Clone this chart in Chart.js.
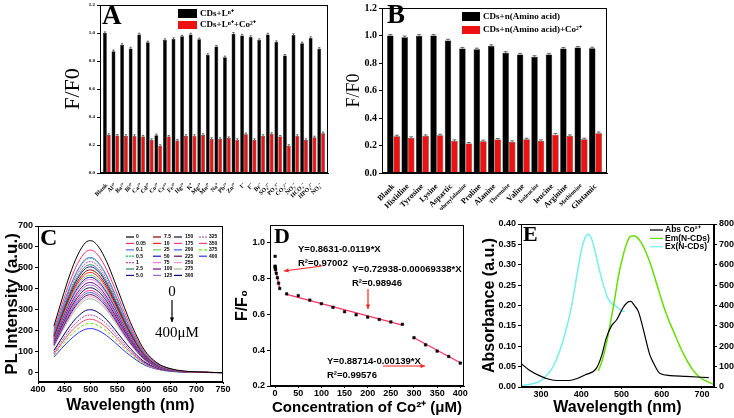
<!DOCTYPE html>
<html>
<head>
<meta charset="utf-8">
<script src="https://cdn.jsdelivr.net/npm/chart.js@4.4.1/dist/chart.umd.min.js"></script>
<style>
  body { margin:0; background:#fff; width:734px; height:418px; overflow:hidden; position:relative; }
  canvas { position:absolute; }
</style>
</head>
<body>
<canvas id="cA" width="290" height="210" style="left:52px;top:0"></canvas>
<canvas id="cB" width="280" height="210" style="left:342px;top:0"></canvas>
<canvas id="cC" width="232" height="206" style="left:0;top:212px"></canvas>
<canvas id="cD" width="258" height="206" style="left:232px;top:212px"></canvas>
<canvas id="cE" width="256" height="206" style="left:478px;top:212px"></canvas>
<script>
// ---- A: interfering ions
const ionLabels = ['Blank','Al³⁺','Ba²⁺','Bi³⁺','Ca²⁺','Cd²⁺','Co²⁺','Cr³⁺','Fe³⁺','Hg²⁺','K⁺','Mg²⁺','Mn²⁺','Na⁺','Pb²⁺','Zn²⁺','I⁻','F⁻','Br⁻','SO₄²⁻','PO₄³⁻','CO₃²⁻','NO₃⁻','HCO₃⁻','HPO₄²⁻','NO₂⁻'];
const ionRatio   = [1.0,0.87,0.915,0.89,0.99,0.934,0.27,0.95,0.957,0.976,0.99,0.955,0.844,0.903,0.827,0.995,0.983,0.972,0.95,0.99,0.936,0.839,0.986,0.927,0.965,0.887];
const ionRatioCo = [0.272,0.267,0.265,0.265,0.26,0.236,0.194,0.26,0.232,0.265,0.265,0.272,0.243,0.243,0.25,0.236,0.277,0.236,0.265,0.279,0.26,0.194,0.265,0.236,0.255,0.284];

// ---- B: amino acids
const aminoLabels  = ['Blank','Histidine','Tyrosine','Lysine','Aspartic','phenylalanine','Proline','Alanine','Threonine','Valine','Isoleucine','leucine','Arginine','Methionine','Glutamic'];
const aminoRatio   = [1.0,0.988,0.998,1.0,0.964,0.905,0.9,0.924,0.874,0.862,0.845,0.862,0.905,0.912,0.907];
const aminoRatioCo = [0.267,0.255,0.269,0.274,0.233,0.214,0.231,0.243,0.226,0.245,0.233,0.279,0.269,0.245,0.29];
const barErr = 0.008;

// ---- C: PL spectra at each Co2+ concentration
const concLabels = ['0','0.05','0.1','0.5','1','2.5','5.0','7.5','10','25','50','75','100','125','150','175','200','225','250','275','300','325','350','375','400'];
const plWave = [430,445,460,475,490,500,515,530,545,560,575,600,625,650,700,750];
const plSpectra = [
  [221,347,466,561,621,630,599,529,435,334,239,113,47,19,3,0],
  [205,322,433,521,576,585,556,491,404,310,222,105,44,18,2,0],
  [193,303,407,490,542,550,523,462,380,292,209,99,41,17,2,0],
  [191,300,403,485,537,545,518,458,376,289,207,98,41,16,2,0],
  [186,292,392,472,522,530,504,445,366,281,201,95,40,16,2,0],
  [180,283,381,458,507,515,489,433,355,273,196,93,39,15,2,0],
  [177,278,374,449,497,505,480,424,348,268,192,91,38,15,2,0],
  [172,270,363,436,483,490,466,412,338,260,186,88,37,15,2,0],
  [167,263,354,425,471,478,454,402,330,253,182,86,36,14,2,0],
  [163,256,344,414,458,465,442,391,321,246,177,84,35,14,2,0],
  [159,250,337,405,448,455,432,382,314,241,173,82,34,14,2,0],
  [156,245,329,396,438,445,423,374,307,236,169,80,33,13,2,0],
  [151,237,318,383,424,430,409,361,297,228,163,77,32,13,2,0],
  [146,230,309,372,412,418,397,351,288,222,159,75,31,13,2,0],
  [142,223,300,360,399,405,385,340,279,215,154,73,30,12,2,0],
  [137,216,290,349,386,392,372,329,270,208,149,71,29,12,2,0],
  [134,210,283,340,376,382,363,321,264,202,145,69,29,11,2,0],
  [130,205,275,331,366,372,353,312,257,197,141,67,28,11,1,0],
  [127,199,268,322,357,362,344,304,250,192,138,65,27,11,1,0],
  [123,194,260,313,347,352,334,296,243,187,134,63,26,11,1,0],
  [105,165,222,267,296,300,285,252,207,159,114,54,23,9,1,0],
  [96,151,204,245,271,275,261,231,190,146,105,50,21,8,1,0],
  [89,140,189,227,251,255,242,214,176,135,97,46,19,8,1,0],
  [82,129,174,209,231,235,223,197,162,125,89,42,18,7,1,0],
  [74,116,155,187,207,210,200,176,145,111,80,38,16,6,1,0]
];
const plColors = ['#000000','#ff3366','#5b6cff','#22bb55','#cc4499','#338866','#1a1a99','#8b0000','#ff2020','#66cc66','#1010cc','#ff77cc','#6a0a8a','#9a6acc','#101040','#ff3a8a','#3a5aff','#5a0a5a','#ff99cc','#99bb99','#000070','#a040a0','#ff4477','#55ee00','#3030ff'];
const plDash = {3:[2,1], 4:[2,1], 21:[2,1], 23:[3,2]};

// ---- D: F/F0 vs Co2+ concentration
const dConc  = [0,0.05,0.1,0.5,1,2.5,5,7.5,10,25,50,75,100,125,150,175,200,225,250,275,300,325,350,375,400];
const dRatio = [0.925,0.87,0.865,0.858,0.85,0.83,0.805,0.775,0.745,0.715,0.705,0.68,0.66,0.64,0.615,0.598,0.585,0.572,0.558,0.545,0.47,0.43,0.395,0.365,0.328];
const fit1X = [0,10],    fit1Y = [0.865,0.745];
const fit2X = [25,275],  fit2Y = [0.712,0.54];
const fit3X = [300,400], fit3Y = [0.47,0.33];

// ---- E: absorbance / emission / excitation
const absWave = [250,270,300,320,340,370,390,410,437,450,462,475,488,504,515,523,532,542,552,562,570,579,596,621,660,717];
const absVal  = [0.058,0.042,0.026,0.019,0.016,0.016,0.021,0.03,0.045,0.075,0.12,0.15,0.165,0.195,0.208,0.21,0.2,0.185,0.15,0.11,0.08,0.06,0.033,0.028,0.026,0.023];
const emWave = [442,452,462,472,482,492,502,512,520,529,540,550,560,570,580,590,600,615,630,645,660,675,690,705,730];
const emVal  = [78,130,210,310,420,540,630,700,735,742,732,705,665,615,555,490,425,340,270,200,140,90,55,35,12];
const exWave = [250,270,290,300,315,330,345,360,375,390,400,410,417,425,435,445,455,465,475,483,490,500,508];
const exVal  = [8,12,22,33,60,100,170,265,390,560,670,735,750,730,660,575,500,440,410,402,390,375,370];

const SERIF = "'Liberation Serif','Times New Roman',serif";
const SANS  = "'Liberation Sans',Arial,sans-serif";
Chart.defaults.font.family = SANS;
Chart.defaults.color = '#000';
Chart.defaults.animation = false;
Chart.defaults.plugins.legend.display = false;
Chart.defaults.plugins.tooltip.enabled = false;

const pts = (xs, ys) => xs.map((x, i) => ({x, y: ys[i]}));
const fixW = w => s => { s.width = w; };
const fixH = h => s => { s.height = h; };
const padCats = s => { s._startValue -= 0.3; s._valueRange += 0.6; };
const yGrid = {drawOnChartArea:false, tickLength:3, color:'#000'};
const xGrid = {drawOnChartArea:false, tickLength:2, color:'#000'};

function text(ctx, s, x, y, font, align, color) {
  ctx.save();
  ctx.font = font; ctx.fillStyle = color || '#000';
  ctx.textAlign = align || 'left'; ctx.textBaseline = 'middle';
  ctx.fillText(s, x, y);
  ctx.restore();
}
function arrow(ctx, x1, y1, x2, y2, color) {
  ctx.save();
  ctx.strokeStyle = color; ctx.fillStyle = color; ctx.lineWidth = 1.2;
  ctx.beginPath(); ctx.moveTo(x1, y1); ctx.lineTo(x2, y2); ctx.stroke();
  const a = Math.atan2(y2 - y1, x2 - x1), h = 5;
  ctx.beginPath(); ctx.moveTo(x2, y2);
  ctx.lineTo(x2 - h*Math.cos(a-0.45), y2 - h*Math.sin(a-0.45));
  ctx.lineTo(x2 - h*Math.cos(a+0.45), y2 - h*Math.sin(a+0.45));
  ctx.closePath(); ctx.fill();
  ctx.restore();
}
function swatchLine(ctx, x1, x2, y, color, dash) {
  ctx.save(); ctx.strokeStyle = color; ctx.lineWidth = 1.2; ctx.setLineDash(dash || []);
  ctx.beginPath(); ctx.moveTo(x1, y); ctx.lineTo(x2, y); ctx.stroke(); ctx.restore();
}

const frame = {
  id: 'frame',
  afterDatasetsDraw(ch) {
    const {ctx, chartArea: a} = ch;
    ctx.save(); ctx.strokeStyle = '#000'; ctx.lineWidth = 1;
    ctx.strokeRect(Math.round(a.left)+0.5, Math.round(a.top)+0.5, Math.round(a.right-a.left)-1, Math.round(a.bottom-a.top)-1);
    ctx.restore();
  }
};
const errCaps = {
  id: 'errCaps',
  afterDatasetsDraw(ch) {
    const ctx = ch.ctx, y = ch.scales.y;
    ctx.save(); ctx.strokeStyle = '#444'; ctx.lineWidth = 0.8;
    ch.data.datasets.forEach((ds, di) => {
      ch.getDatasetMeta(di).data.forEach((bar, i) => {
        const v = ds.data[i], t = y.getPixelForValue(v + barErr), w = bar.width * 0.3;
        ctx.beginPath();
        ctx.moveTo(bar.x, t); ctx.lineTo(bar.x, y.getPixelForValue(v));
        ctx.moveTo(bar.x - w, t); ctx.lineTo(bar.x + w, t);
        ctx.stroke();
      });
    });
    ctx.restore();
  }
};
const deco = fn => ({ id: 'deco', afterDraw(ch) { fn(ch.ctx, ch); } });

// ---------- A
new Chart(document.getElementById('cA'), {
  type: 'bar',
  data: { labels: ionLabels, datasets: [
    {label:'CDs+Lⁿ⁺', data: ionRatio, backgroundColor:'#000', borderColor:'#000', borderWidth:0.5, categoryPercentage:0.9, barPercentage:1},
    {label:'CDs+Lⁿ⁺+Co²⁺', data: ionRatioCo, backgroundColor:'#ee1111', borderColor:'#222', borderWidth:0.5, categoryPercentage:0.9, barPercentage:1}
  ]},
  options: {
    responsive: false,
    layout: {padding: {left:0, right:14, top:5, bottom:0}},
    scales: {
      x: { grid:{display:false}, border:{color:'#000'}, afterBuildTicks: padCats, afterFit: fixH(37),
           ticks:{autoSkip:false, minRotation:45, maxRotation:45, padding:1, font:{family:SERIF, size:6, weight:'bold'}} },
      y: { min:0, max:1.2, afterFit: fixW(48), grid: yGrid, border:{color:'#000'},
           ticks:{stepSize:0.2, padding:2, callback:v => v.toFixed(1), font:{family:SERIF, size:5, weight:'bold'}},
           title:{display:true, text:'F/F0', font:{family:SERIF, size:22}, padding:{top:8, bottom:0}} }
    }
  },
  plugins: [frame, errCaps, deco(ctx => {
    text(ctx, 'A', 50, 17, 'bold 27px ' + SERIF);
    ctx.fillStyle = '#000'; ctx.fillRect(126, 9, 19, 9);
    ctx.fillStyle = '#ee1111'; ctx.fillRect(126, 21, 19, 8);
    text(ctx, 'CDs+Lⁿ⁺', 148, 13.5, 'bold 9px ' + SERIF);
    text(ctx, 'CDs+Lⁿ⁺+Co²⁺', 148, 25, 'bold 9px ' + SERIF);
  })]
});

// ---------- B
const smallAmino = [5, 8, 10, 13];
new Chart(document.getElementById('cB'), {
  type: 'bar',
  data: { labels: aminoLabels, datasets: [
    {label:'CDs+n(Amino acid)', data: aminoRatio, backgroundColor:'#000', borderColor:'#000', borderWidth:0.5, categoryPercentage:0.9, barPercentage:1},
    {label:'CDs+n(Amino acid)+Co²⁺', data: aminoRatioCo, backgroundColor:'#ee1111', borderColor:'#222', borderWidth:0.5, categoryPercentage:0.9, barPercentage:1}
  ]},
  options: {
    responsive: false,
    layout: {padding: {left:0, right:15, top:5, bottom:0}},
    scales: {
      x: { grid:{display:false}, border:{color:'#000'}, afterBuildTicks: padCats, afterFit: fixH(37),
           ticks:{autoSkip:false, minRotation:45, maxRotation:45, padding:1,
                  font: c => ({family:SERIF, size: smallAmino.includes(c.index) ? 6 : 8, weight:'bold'})} },
      y: { min:0, max:1.2, afterFit: fixW(40), grid: yGrid, border:{color:'#000'},
           ticks:{stepSize:0.2, padding:2, callback:v => v.toFixed(1), font:{family:SERIF, size:10, weight:'bold'}},
           title:{display:true, text:'F/F0', font:{family:SERIF, size:18}, padding:{top:1, bottom:0}} }
    }
  },
  plugins: [frame, errCaps, deco(ctx => {
    text(ctx, 'B', 45, 16, 'bold 27px ' + SERIF);
    ctx.fillStyle = '#000'; ctx.fillRect(120, 12, 18, 9);
    ctx.fillStyle = '#ee1111'; ctx.fillRect(120, 26, 18, 8);
    text(ctx, 'CDs+n(Amino acid)', 141, 16.5, 'bold 9px ' + SERIF);
    text(ctx, 'CDs+n(Amino acid)+Co²⁺', 141, 30, 'bold 9px ' + SERIF);
  })]
});

// ---------- C
new Chart(document.getElementById('cC'), {
  type: 'line',
  data: { datasets: plSpectra.map((arr, i) => ({
    label: concLabels[i], data: pts(plWave, arr), borderColor: plColors[i], borderWidth: 1,
    borderDash: plDash[i] || [], pointRadius: 0, cubicInterpolationMode: 'monotone'
  }))},
  options: {
    responsive: false,
    layout: {padding: {left:0, right:9, top:14, bottom:0}},
    scales: {
      x: { type:'linear', min:400, max:750, afterFit: fixH(36), grid: xGrid, border:{color:'#000'},
           ticks:{stepSize:50, padding:0, font:{size:9, weight:'bold'}},
           title:{display:true, text:'Wavelength (nm)', font:{size:16, weight:'bold'}, padding:{top:0, bottom:3}} },
      y: { min:-45, max:700, afterFit: fixW(38), grid: yGrid, border:{color:'#000'},
           ticks:{stepSize:100, includeBounds:false, padding:2, font:{size:9, weight:'bold'}},
           title:{display:true, text:'PL Intensity (a.u.)', font:{size:17, weight:'bold'}, padding:{top:2, bottom:0}} }
    }
  },
  plugins: [frame, deco(ctx => {
    text(ctx, 'C', 40, 27, 'bold 24px ' + SERIF);
    const cols = [[126,136],[153,164],[174,185],[199,209]];
    concLabels.forEach((l, i) => {
      const [lx, tx] = cols[Math.floor(i / 7)], y = 25 + (i % 7) * 6.4;
      swatchLine(ctx, lx, lx + 8, y, plColors[i], plDash[i]);
      text(ctx, l, tx, y, 'bold 5px ' + SANS);
    });
    text(ctx, '0', 172, 80, '15px ' + SERIF, 'center');
    arrow(ctx, 172, 88, 172, 110, '#000');
    text(ctx, '400μM', 177, 121, '15px ' + SERIF, 'center');
  })]
});

// ---------- D
new Chart(document.getElementById('cD'), {
  type: 'scatter',
  data: { datasets: [
    {data: pts(dConc, dRatio), pointStyle:'rect', pointRadius:1.8, backgroundColor:'#000', borderColor:'#000', borderWidth:0.5},
    {data: pts(fit1X, fit1Y), showLine:true, pointRadius:0, borderColor:'#ff3366', borderWidth:1.3},
    {data: pts(fit2X, fit2Y), showLine:true, pointRadius:0, borderColor:'#ff3366', borderWidth:1.3},
    {data: pts(fit3X, fit3Y), showLine:true, pointRadius:0, borderColor:'#ff3366', borderWidth:1.3}
  ]},
  options: {
    responsive: false,
    layout: {padding: {left:0, right:26, top:13, bottom:0}},
    scales: {
      x: { min:-11, max:408, afterFit: fixH(32), grid: xGrid, border:{color:'#000'},
           ticks:{stepSize:50, includeBounds:false, padding:0, font:{size:9, weight:'bold'}},
           title:{display:true, text:'Concentration of Co²⁺ (μM)', font:{size:15, weight:'bold'}, padding:{top:0, bottom:1}} },
      y: { min:0.2, max:1.1, afterFit: fixW(38), grid: yGrid, border:{color:'#000'},
           ticks:{stepSize:0.2, includeBounds:false, padding:2, callback:v => v.toFixed(1), font:{size:9, weight:'bold'}},
           title:{display:true, text:'F/F₀', font:{size:16, weight:'bold'}, padding:{top:1, bottom:0}} }
    }
  },
  plugins: [frame, deco(ctx => {
    text(ctx, 'D', 42, 25, 'bold 22px ' + SERIF);
    const f = 'bold 9.5px ' + SANS;
    text(ctx, 'Y=0.8631-0.0119*X', 66, 37, f);
    text(ctx, 'R²=0.97002', 66, 51, f);
    arrow(ctx, 90, 54, 52, 59, '#ff2222');
    text(ctx, 'Y=0.72938-0.00069338*X', 120, 57, f);
    text(ctx, 'R²=0.98946', 120, 71, f);
    arrow(ctx, 136, 77, 136, 97, '#ff2222');
    text(ctx, 'Y=0.88714-0.00139*X', 95, 149, f);
    text(ctx, 'R²=0.99576', 95, 163, f);
    arrow(ctx, 151, 154, 193, 154, '#ff2222');
  })]
});

// ---------- E
new Chart(document.getElementById('cE'), {
  type: 'line',
  data: { datasets: [
    {label:'Abs Co²⁺', data: pts(absWave, absVal), yAxisID:'y', borderColor:'#000', borderWidth:1.2, pointRadius:0, cubicInterpolationMode:'monotone'},
    {label:'Em(N-CDs)', data: pts(emWave, emVal), yAxisID:'y2', borderColor:'#66dd00', borderWidth:1.5, pointRadius:0, cubicInterpolationMode:'monotone'},
    {label:'Ex(N-CDs)', data: pts(exWave, exVal), yAxisID:'y2', borderColor:'#77eeee', borderWidth:1.5, pointRadius:0, cubicInterpolationMode:'monotone'}
  ]},
  options: {
    responsive: false,
    layout: {padding: {left:0, right:0, top:12, bottom:0}},
    scales: {
      x: { type:'linear', min:250, max:730, afterFit: fixH(31), grid: xGrid, border:{color:'#000'},
           ticks:{stepSize:100, includeBounds:false, padding:0, font:{size:9, weight:'bold'}},
           title:{display:true, text:'Wavelength (nm)', font:{size:16, weight:'bold'}, padding:{top:0, bottom:1}} },
      y: { position:'left', min:0, max:0.4, afterFit: fixW(43), grid: yGrid, border:{color:'#000'},
           ticks:{stepSize:0.05, padding:2, callback:v => v.toFixed(2), font:{size:9, weight:'bold'}},
           title:{display:true, text:'Absorbance (a.u.)', font:{size:16, weight:'bold'}, padding:{top:2, bottom:0}} },
      y2: { position:'right', min:0, max:800, afterFit: fixW(20), grid: yGrid, border:{color:'#000'},
            ticks:{stepSize:100, padding:2, font:{size:9, weight:'bold'}} }
    }
  },
  plugins: [frame, deco((ctx, ch) => {
    text(ctx, 'E', 45, 23, 'bold 22px ' + SERIF);
    const f = 'bold 8.5px ' + SANS;
    ch.data.datasets.forEach((ds, i) => {
      const y = 18 + i * 8.4;
      swatchLine(ctx, 172, 185, y, ds.borderColor);
      text(ctx, ds.label, 187, y, f);
    });
  })]
});
</script>
</body>
</html>
